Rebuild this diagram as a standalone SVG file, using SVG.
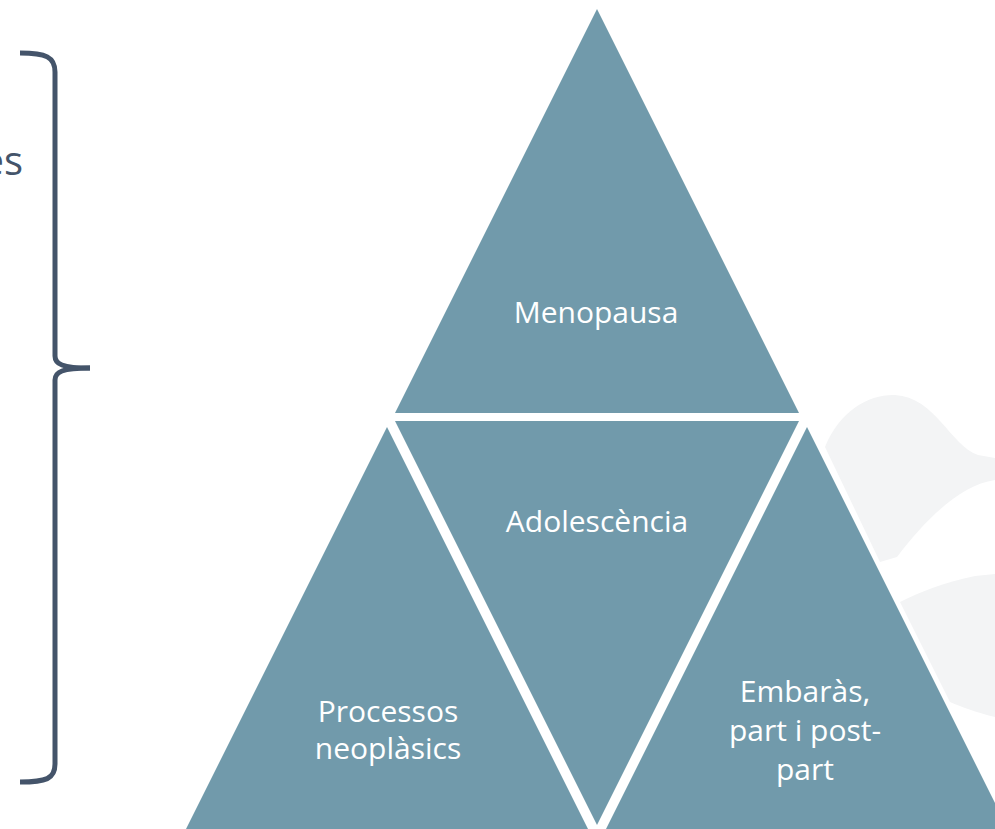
<svg xmlns="http://www.w3.org/2000/svg" width="995" height="829" viewBox="0 0 995 829">
  <style>
    .tri { fill: #719AAB; }
    .lbl { font-family: "Open Sans", "Noto Sans", "DejaVu Sans", sans-serif; font-size: 30px; fill: #FFFFFF; text-anchor: middle; }
    .side { font-family: "Open Sans", "Noto Sans", "DejaVu Sans", sans-serif; font-size: 40px; fill: #44546A; }
    .brace { fill: none; stroke: #44546A; stroke-width: 5; stroke-linecap: butt; }
    .blob { fill: #F3F4F5; }
  </style>

  <rect width="995" height="829" fill="#FFFFFF"/>

  <!-- faint background decoration at the right, kept clear of the pyramid edge -->
  <g id="decoration">
    <path class="blob" d="M825 447 C 840 410, 870 394, 895 395 C 935 397, 950 445, 978 455 L 995 458 L 995 480 C 960 485, 925 520, 897 557 L 880 562 Z"/>
    <path class="blob" d="M900 602 C 920 592, 945 582, 975 576 L 995 574 L 995 717 C 975 712, 962 707, 950 702 Z"/>
  </g>

  <!-- left brace with clipped caption -->
  <g id="brace">
    <text class="side" x="23" y="175" text-anchor="end">es</text>
    <path class="brace" d="M20 53 C 46 53 55 57 55 72 L 55 356 C 55 364 62 368 90 368"/>
    <path class="brace" d="M90 368 C 62 368 55 372 55 380 L 55 764 C 55 779 46 782 20 782"/>
  </g>

  <g id="menopausa">
    <polygon class="tri" points="597,9 395,413 799,413"/>
    <text class="lbl" x="596" y="323">Menopausa</text>
  </g>

  <g id="adolescencia">
    <polygon class="tri" points="395,421 799,421 597,825"/>
    <text class="lbl" x="597" y="532">Adolescència</text>
  </g>

  <g id="processos">
    <polygon class="tri" points="387,427 186,829 588,829"/>
    <text class="lbl" x="388" y="722">Processos</text>
    <text class="lbl" x="388" y="759">neoplàsics</text>
  </g>

  <g id="embaras">
    <polygon class="tri" points="807,427 606,829 1008,829"/>
    <text class="lbl" x="805" y="702">Embaràs,</text>
    <text class="lbl" x="805" y="741">part i post-</text>
    <text class="lbl" x="805" y="780">part</text>
  </g>

  <g id="connectors"></g>
</svg>
